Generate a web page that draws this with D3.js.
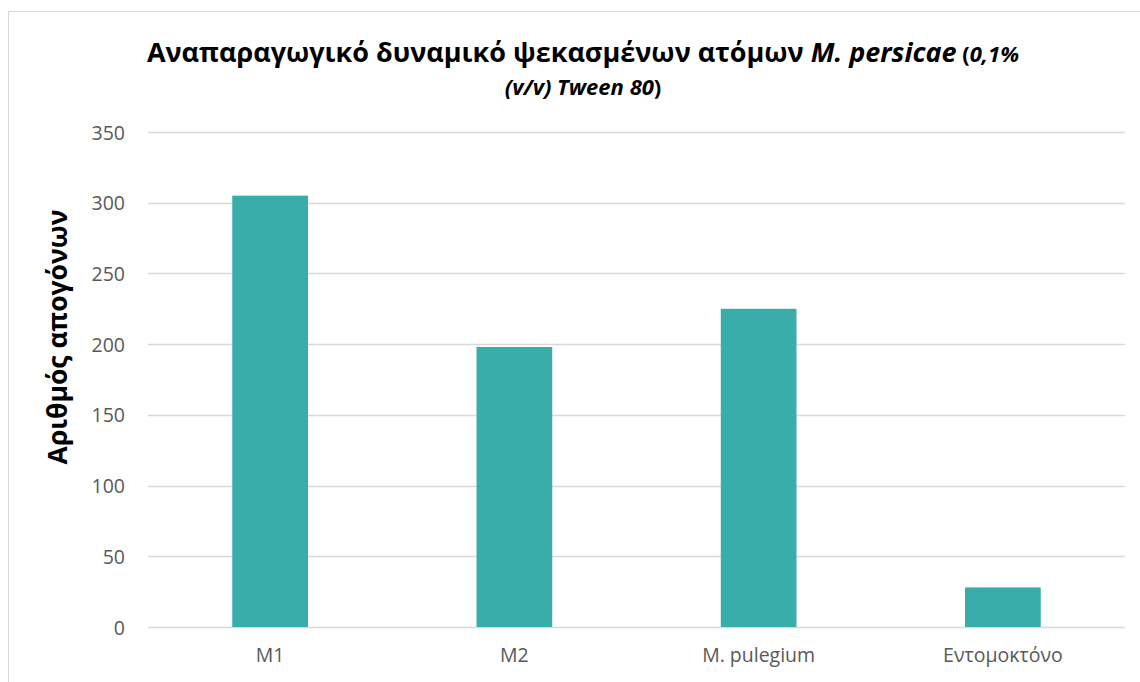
<!DOCTYPE html>
<html>
<head>
<meta charset="utf-8">
<script src="https://cdn.jsdelivr.net/npm/d3@7"></script>
<style>
  html, body { margin: 0; padding: 0; background: #fff; }
  svg { display: block; }
</style>
</head>
<body>
<svg id="chart" width="1140" height="682"></svg>
<script>
// Reproductive potential of sprayed M. persicae individuals
const categories = ["M1", "M2", "M. pulegium", "Εντομοκτόνο"];
const offspring = [305, 198, 225, 28];
const yTicks = [0, 50, 100, 150, 200, 250, 300, 350];

const W = 1140, H = 682;
const margin = { left: 148, right: 15, top: 132, bottom: 55 };
const svg = d3.select("#chart");

// outer chart frame
svg.append("rect")
  .attr("x", 8.5).attr("y", 11.5)
  .attr("width", W + 20).attr("height", H + 20)
  .attr("fill", "#fff").attr("stroke", "#d9d9d9").attr("stroke-width", 1);

const x = d3.scaleBand()
  .domain(categories)
  .range([margin.left, W - margin.right])
  .paddingInner(0.69).paddingOuter(0.345);

const y = d3.scaleLinear()
  .domain([0, 350])
  .range([H - margin.bottom, margin.top]);

// horizontal gridlines
svg.append("g")
  .selectAll("line")
  .data(yTicks)
  .join("line")
  .attr("x1", margin.left).attr("x2", W - margin.right)
  .attr("y1", d => Math.round(y(d)) + 0.5).attr("y2", d => Math.round(y(d)) + 0.5)
  .attr("stroke", "#d9d9d9").attr("stroke-width", 1.5);

// bars
svg.append("g")
  .selectAll("rect")
  .data(offspring)
  .join("rect")
  .attr("x", (d, i) => x(categories[i]))
  .attr("width", x.bandwidth())
  .attr("y", d => y(d))
  .attr("height", d => y(0) - y(d))
  .attr("fill", "#38ada9");

// y axis labels
const yAxis = d3.axisLeft(y).tickValues(yTicks).tickSize(0).tickPadding(0);
svg.append("g")
  .attr("transform", `translate(125,0)`)
  .call(yAxis)
  .call(g => g.select(".domain").remove())
  .call(g => g.selectAll("text")
    .attr("font-family", "'Open Sans', sans-serif")
    .attr("font-size", 19.5)
    .attr("fill", "#595959")
    .attr("dy", "0.36em"));

// x axis labels
const xAxis = d3.axisBottom(x).tickSize(0).tickPadding(0);
svg.append("g")
  .attr("transform", `translate(0,${y(0) + 21})`)
  .call(xAxis)
  .call(g => g.select(".domain").remove())
  .call(g => g.selectAll("text")
    .attr("font-family", "'Open Sans', sans-serif")
    .attr("font-size", 19.5)
    .attr("fill", "#595959")
    .attr("dy", "0.71em"));

// y axis title
svg.append("text")
  .attr("transform", `translate(67,337) rotate(-90)`)
  .attr("text-anchor", "middle")
  .attr("font-family", "'Open Sans', sans-serif")
  .attr("font-weight", "bold")
  .attr("font-size", 26.5)
  .attr("fill", "#000")
  .text("Αριθμός απογόνων");

// chart title
const title = svg.append("g")
  .attr("font-family", "'Open Sans', sans-serif")
  .attr("font-weight", "bold")
  .attr("fill", "#000");

const line1 = title.append("text")
  .attr("x", 583).attr("y", 62)
  .attr("text-anchor", "middle");
line1.append("tspan").attr("font-size", 27).text("Αναπαραγωγικό δυναμικό ψεκασμένων ατόμων ");
line1.append("tspan").attr("font-size", 27).attr("font-style", "italic").text("M. persicae");
line1.append("tspan").attr("font-size", 22).text(" (");
line1.append("tspan").attr("font-size", 22).attr("font-style", "italic").text("0,1%");

const line2 = title.append("text")
  .attr("x", 583).attr("y", 95)
  .attr("text-anchor", "middle");
line2.append("tspan").attr("font-size", 22).attr("font-style", "italic").text("(v/v) Tween 80");
line2.append("tspan").attr("font-size", 22).text(")");
</script>
</body>
</html>
